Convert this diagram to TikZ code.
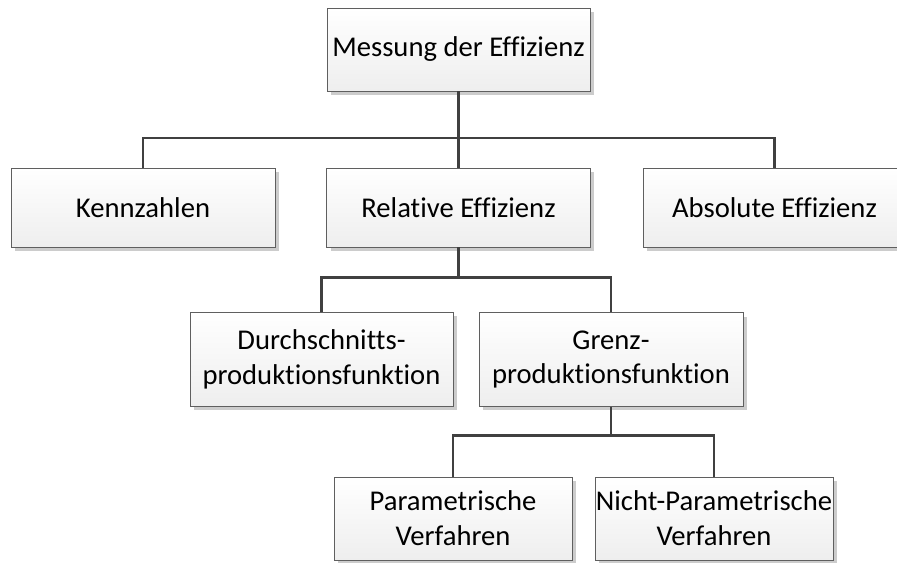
\documentclass[tikz,border=0pt]{standalone}
\usepackage{fontspec}
\setmainfont{Carlito}[Ligatures={NoCommon}]
\usetikzlibrary{shadows}
\definecolor{boxline}{HTML}{5f5f5f}
\definecolor{boxlow}{HTML}{eeeeee}
\definecolor{shadowgray}{HTML}{cccccc}
\definecolor{connline}{HTML}{404040}

\tikzset{
  orgbox/.style={draw=boxline,line width=0.5pt,top color=white,bottom color=boxlow,
    align=center,inner sep=0pt,font=\fontsize{16.3}{19.8}\selectfont,
    drop shadow={shadow xshift=0.08cm,shadow yshift=-0.08cm,fill=shadowgray,opacity=1}},
  conn/.style={draw=connline,line width=1.7pt}
}

\begin{document}
\begin{tikzpicture}[x=0.02cm,y=-0.02cm]
  \useasboundingbox (0,0) rectangle (897,562);
  % top level
  \node[orgbox,minimum width=5.26cm,minimum height=1.66cm] (mess) at (458.5,49.5) {Messung der Effizienz};
  % second level
  \node[orgbox,minimum width=5.28cm,minimum height=1.58cm] (kenn) at (143,207.5) {Kennzahlen};
  \node[orgbox,minimum width=5.28cm,minimum height=1.58cm] (rel) at (458.5,207.5) {Relative Effizienz};
  \node[orgbox,minimum width=5.26cm,minimum height=1.58cm] (abs) at (774.5,207.5) {Absolute Effizienz};
  % third level
  \node[orgbox,minimum width=5.26cm,minimum height=1.88cm] (durch) at (321.5,359) {Durchschnitts-\\produktionsfunktion};
  \node[orgbox,minimum width=5.28cm,minimum height=1.88cm] (grenz) at (611,359.5) {Grenz-\\produktionsfunktion};
  % fourth level
  \node[orgbox,minimum width=4.76cm,minimum height=1.66cm] (param) at (453,518.5) {Parametrische\\Verfahren};
  \node[orgbox,minimum width=4.76cm,minimum height=1.66cm] (nparam) at (714,518.5) {Nicht-Parametrische\\Verfahren};

  % connectors
  \coordinate (bus1) at (458.5,138);
  \coordinate (bus2) at (458.5,277);
  \coordinate (bus3) at (611,435);
  \draw[conn] (mess.south) -- (bus1);
  \draw[conn] (kenn.north) |- (bus1) -| (abs.north);
  \draw[conn] (bus1) -- (rel.north);
  \draw[conn] (rel.south) -- (bus2);
  \draw[conn] (durch.north) |- (bus2) -| (grenz.north);
  \draw[conn] (grenz.south) -- (bus3);
  \draw[conn] (param.north) |- (bus3) -| (nparam.north);
\end{tikzpicture}
\end{document}
